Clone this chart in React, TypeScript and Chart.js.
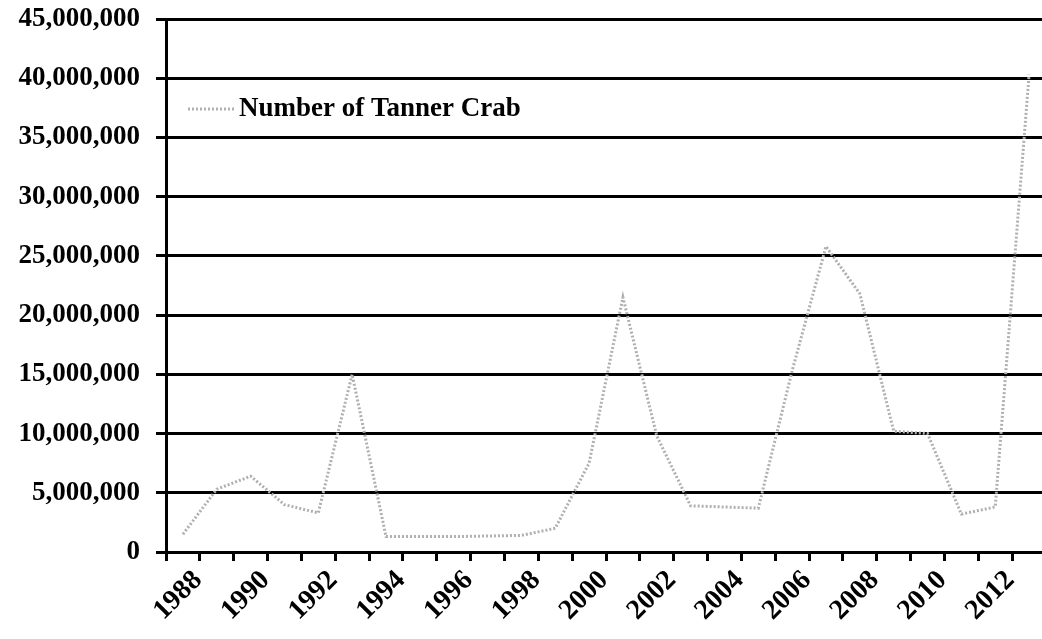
import React, { useEffect, useRef } from 'react';
import { Chart, registerables } from 'chart.js';

Chart.register(...registerables);

const years = [
  '1988', '1989', '1990', '1991', '1992', '1993', '1994', '1995', '1996',
  '1997', '1998', '1999', '2000', '2001', '2002', '2003', '2004', '2005',
  '2006', '2007', '2008', '2009', '2010', '2011', '2012', '2013',
];

const tannerCrab = [
  1500000, 5300000, 6400000, 4000000, 3300000, 15000000, 1300000, 1300000, 1300000,
  1350000, 1400000, 2000000, 7500000, 21500000, 9800000, 3900000, 3800000, 3700000,
  15300000, 25800000, 21800000, 10200000, 10000000, 3200000, 3800000, 40300000,
];

const seriesLabel = 'Number of Tanner Crab';
const yMin = 0;
const yMax = 45000000;
const yStep = 5000000;

const lineColor = '#b0b0b0';
const fontFamily = '"Liberation Serif", "Times New Roman", serif';

export default function App() {
  const canvasRef = useRef<HTMLCanvasElement>(null);

  useEffect(() => {
    if (!canvasRef.current) return;

    const insideLegend = {
      id: 'insideLegend',
      afterDraw(chart: any) {
        const { ctx, chartArea } = chart;
        const y = chart.scales.y.getPixelForValue(37400000);
        const x0 = chartArea.left + 22;
        ctx.save();
        ctx.strokeStyle = lineColor;
        ctx.lineWidth = 3;
        ctx.setLineDash([2, 2]);
        ctx.beginPath();
        ctx.moveTo(x0, y);
        ctx.lineTo(x0 + 48, y);
        ctx.stroke();
        ctx.setLineDash([]);
        ctx.fillStyle = '#000';
        ctx.font = `bold 27px ${fontFamily}`;
        ctx.textBaseline = 'middle';
        ctx.textAlign = 'left';
        ctx.fillText(seriesLabel, x0 + 51, y);
        ctx.restore();
      },
    };

    const chart = new Chart(canvasRef.current, {
      type: 'line',
      data: {
        labels: years,
        datasets: [
          {
            label: seriesLabel,
            data: tannerCrab,
            borderColor: lineColor,
            backgroundColor: lineColor,
            borderWidth: 3,
            borderDash: [2, 2],
            pointRadius: 0,
            tension: 0,
            fill: false,
          },
        ],
      },
      options: {
        responsive: false,
        animation: false,
        layout: { padding: { top: 19, right: 4, left: 0, bottom: 0 } },
        plugins: {
          legend: { display: false },
          tooltip: { enabled: false },
        },
        scales: {
          x: {
            type: 'category',
            offset: true,
            grid: {
              offset: true,
              drawOnChartArea: false,
              drawTicks: true,
              tickLength: 9,
              tickColor: '#000',
              tickWidth: 3,
              color: '#000',
            },
            border: { display: true, color: '#000', width: 3 },
            ticks: {
              autoSkip: false,
              minRotation: 45,
              maxRotation: 45,
              padding: 3,
              labelOffset: 15,
              color: '#000',
              font: { family: fontFamily, size: 28, weight: 'bold' },
              callback: (_v: any, i: number) => (Number(years[i]) % 2 === 0 ? years[i] : ''),
            },
            afterFit: (scale: any) => {
              scale.height = 87;
              scale.paddingLeft = 0;
              scale.paddingRight = 0;
            },
          },
          y: {
            min: yMin,
            max: yMax,
            grid: {
              color: '#000',
              lineWidth: 3,
              drawTicks: true,
              tickLength: 10,
              tickColor: '#000',
              tickWidth: 3,
            },
            border: { display: true, color: '#000', width: 3 },
            ticks: {
              stepSize: yStep,
              padding: 16,
              color: '#000',
              font: { family: fontFamily, size: 27, weight: 'bold' },
              callback: (v: any) => Number(v).toLocaleString('en-US'),
            },
            afterFit: (scale: any) => {
              scale.width = 166;
              scale.paddingTop = 0;
              scale.paddingBottom = 0;
            },
          },
        },
      },
      plugins: [insideLegend],
    });

    return () => chart.destroy();
  }, []);

  return (
    <div
      style={{
        position: 'fixed',
        left: 0,
        top: 0,
        width: '1042px',
        height: '639px',
        overflow: 'hidden',
        background: '#fff',
      }}
    >
      <canvas
        ref={canvasRef}
        width={1050}
        height={639}
        style={{ width: '1050px', height: '639px', display: 'block' }}
      />
    </div>
  );
}
